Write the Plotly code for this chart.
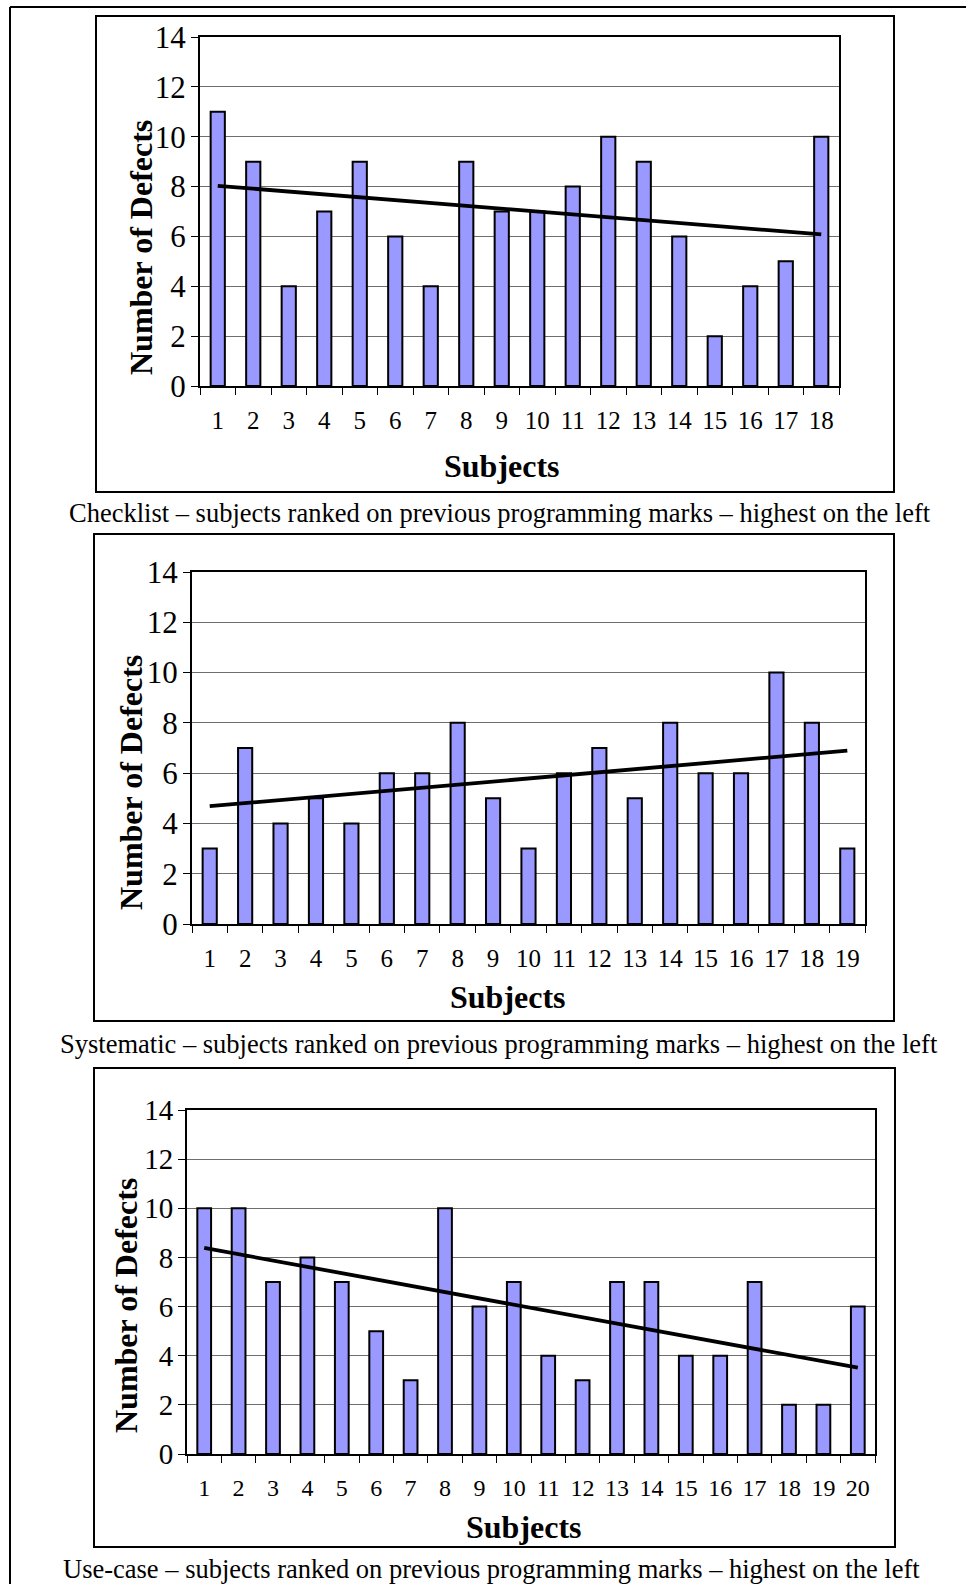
import numpy as np
import plotly.graph_objects as go

W, H = 966, 1584

# ---- data ----
checklist_subjects = [str(i) for i in range(1, 19)]
checklist_defects = [11, 9, 4, 7, 9, 6, 4, 9, 7, 7, 8, 10, 9, 6, 2, 4, 5, 10]

systematic_subjects = [str(i) for i in range(1, 20)]
systematic_defects = [3, 7, 4, 5, 4, 6, 6, 8, 5, 3, 6, 7, 5, 8, 6, 6, 10, 8, 3]

usecase_subjects = [str(i) for i in range(1, 21)]
usecase_defects = [10, 10, 7, 8, 7, 5, 3, 10, 6, 7, 4, 3, 7, 7, 4, 4, 7, 2, 2, 6]

captions = [
    "Checklist – subjects ranked on previous programming marks – highest on the left",
    "Systematic – subjects ranked on previous programming marks – highest on the left",
    "Use-case – subjects ranked on previous programming marks – highest on the left",
]
y_title = "Number of Defects"
x_title = "Subjects"
y_ticks = [0, 2, 4, 6, 8, 10, 12, 14]

# ---- layout geometry (pixels) ----
panels = [
    dict(subj=checklist_subjects, vals=checklist_defects,
         plot=(200, 839, 37, 386), box=(96, 894, 16, 492),
         ytitle=(141, 248), xtitle=(502, 466), cap=(500, 513),
         yfs=31, xfs=25),
    dict(subj=systematic_subjects, vals=systematic_defects,
         plot=(192, 865, 572, 924), box=(94, 894, 534, 1021),
         ytitle=(131, 783), xtitle=(508, 997), cap=(499, 1044),
         yfs=31, xfs=25),
    dict(subj=usecase_subjects, vals=usecase_defects,
         plot=(187, 875, 1110, 1454), box=(94, 895, 1068, 1547),
         ytitle=(126, 1306), xtitle=(524, 1527), cap=(492, 1569),
         yfs=29, xfs=24),
]

FONT = "Liberation Serif"

def px(x):
    return x / W

def py(y):
    return 1 - y / H

fig = go.Figure()
shapes = []
annotations = []
layout_axes = {}

for i, p in enumerate(panels):
    n = i + 1
    xa = "x" if n == 1 else f"x{n}"
    ya = "y" if n == 1 else f"y{n}"
    x0, x1, y0, y1 = p["plot"]

    fig.add_trace(go.Bar(
        x=p["subj"], y=p["vals"], xaxis=xa, yaxis=ya,
        marker=dict(color="#9999FF", line=dict(color="black", width=2)),
        showlegend=False, hoverinfo="x+y",
    ))
    xs = np.arange(1, len(p["vals"]) + 1)
    k, b = np.polyfit(xs, np.array(p["vals"], dtype=float), 1)
    fig.add_trace(go.Scatter(
        x=[p["subj"][0], p["subj"][-1]], y=[k * xs[0] + b, k * xs[-1] + b],
        xaxis=xa, yaxis=ya, mode="lines",
        line=dict(color="black", width=3.8), showlegend=False, hoverinfo="skip",
    ))

    xkey = "xaxis" if n == 1 else f"xaxis{n}"
    ykey = "yaxis" if n == 1 else f"yaxis{n}"
    layout_axes[xkey] = dict(
        domain=[px(x0), px(x1)], anchor=ya, type="category", automargin=False,
        showline=True, linecolor="black", linewidth=2, mirror=True,
        ticks="outside", tickson="boundaries", ticklen=7, tickcolor="black", tickwidth=1.2,
        showgrid=False, zeroline=False,
        tickfont=dict(family=FONT, size=p["xfs"], color="black"),
        ticklabelstandoff=11,
    )
    layout_axes[ykey] = dict(
        domain=[py(y1), py(y0)], anchor=xa, range=[0, 14], automargin=False,
        tickvals=y_ticks, ticktext=[str(v) for v in y_ticks],
        showline=True, linecolor="black", linewidth=2, mirror=True,
        ticks="outside", ticklen=7, tickcolor="black", tickwidth=1.2,
        showgrid=True, gridcolor="#6e6e6e", gridwidth=1.2, zeroline=False,
        tickfont=dict(family=FONT, size=p["yfs"], color="black"),
        ticklabelstandoff=-1,
    )

    bx0, bx1, by0, by1 = p["box"]
    shapes.append(dict(type="rect", xref="paper", yref="paper",
                       x0=px(bx0), x1=px(bx1), y0=py(by1), y1=py(by0),
                       line=dict(color="black", width=2)))

    annotations.append(dict(text=f"<b>{y_title}</b>", xref="paper", yref="paper",
                            x=px(p["ytitle"][0]), y=py(p["ytitle"][1]),
                            xanchor="center", yanchor="middle", textangle=-90,
                            showarrow=False, font=dict(family=FONT, size=32, color="black")))
    annotations.append(dict(text=f"<b>{x_title}</b>", xref="paper", yref="paper",
                            x=px(p["xtitle"][0]), y=py(p["xtitle"][1]),
                            xanchor="center", yanchor="middle",
                            showarrow=False, font=dict(family=FONT, size=32, color="black")))
    annotations.append(dict(text=captions[i], xref="paper", yref="paper",
                            x=px(p["cap"][0]), y=py(p["cap"][1]),
                            xanchor="center", yanchor="middle",
                            showarrow=False, font=dict(family=FONT, size=26.5, color="black")))

# outer page frame (top and left edges visible)
shapes.append(dict(type="line", xref="paper", yref="paper",
                   x0=px(10), x1=1, y0=py(7), y1=py(7),
                   line=dict(color="black", width=2)))
shapes.append(dict(type="line", xref="paper", yref="paper",
                   x0=px(10), x1=px(10), y0=py(7), y1=0,
                   line=dict(color="black", width=2)))

fig.update_layout(
    width=W, height=H,
    margin=dict(l=0, r=0, t=0, b=0, autoexpand=False),
    paper_bgcolor="white", plot_bgcolor="white",
    bargap=0.6,
    shapes=shapes, annotations=annotations,
    font=dict(family=FONT, color="black"),
    **layout_axes,
)

fig.write_html("out.html", config={"displayModeBar": False},
               post_script="document.body.style.margin='0';")
